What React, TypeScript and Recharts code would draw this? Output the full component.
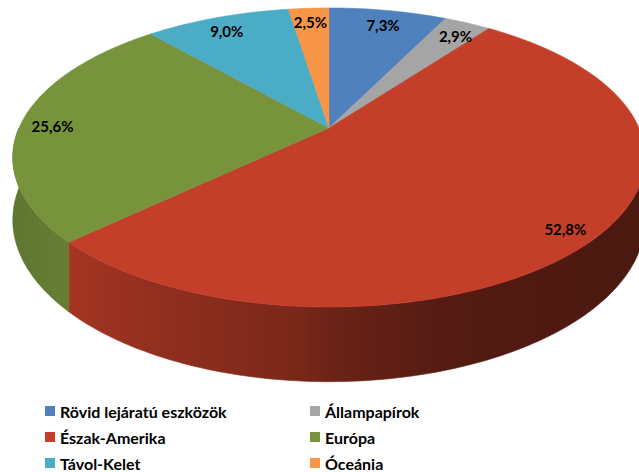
import { PieChart, Pie, Legend } from 'recharts';

const categories = ['Rövid lejáratú eszközök', 'Állampapírok', 'Észak-Amerika', 'Európa', 'Távol-Kelet', 'Óceánia'];
const shares = [7.3, 2.9, 52.8, 25.6, 9.0, 2.5];
const colors = ['#4f81bd', '#a5a5a5', '#c43f29', '#77933c', '#4bacc6', '#f79646'];

const data = categories.map((name, i) => ({ name, value: shares[i], fill: colors[i] }));

// fake Excel-style 3D: perspective tilt of the pie plane, plus a wall under the front rim
const PERSP = 0.197;
const SQUASH = 143.7 / 310;
const WALL = 60;
const wallShade: Array<[number, number]> = [
  [0, 0.78], [0.1, 0.86], [0.12, 0.83], [0.27, 0.73], [0.47, 0.62], [0.52, 0.55], [0.7, 0.43], [0.94, 0.39], [1, 0.39],
];

function project(cx: number, cy: number, r: number, theta: number, f: number, drop = 0) {
  const t = (theta * Math.PI) / 180;
  const d = -Math.cos(t) * f;
  const s = 1 / (1 - PERSP * d);
  return [cx + r * Math.sin(t) * f * s, cy + r * SQUASH * d * s + drop * s];
}

function darken(hex: string, k: number) {
  const n = parseInt(hex.slice(1), 16);
  const c = [(n >> 16) & 255, (n >> 8) & 255, n & 255].map((v) => Math.round(v * k));
  return `rgb(${c[0]},${c[1]},${c[2]})`;
}

function arcPoints(cx: number, cy: number, r: number, a: number, b: number, drop = 0) {
  const n = Math.max(2, Math.ceil(Math.abs(b - a)));
  const pts: string[] = [];
  for (let i = 0; i <= n; i++) {
    const [x, y] = project(cx, cy, r, a + ((b - a) * i) / n, 1, drop);
    pts.push(`${x.toFixed(2)},${y.toFixed(2)}`);
  }
  return pts;
}

function TopFace(props: any) {
  const { cx, cy, outerRadius, startAngle, endAngle, fill } = props;
  const t1 = 90 - startAngle;
  const t2 = 90 - endAngle;
  const d = `M${cx},${cy} L${arcPoints(cx, cy, outerRadius, t1, t2).join(' L')} Z`;
  return <path d={d} fill={fill} stroke={fill} strokeWidth={0.6} strokeLinejoin="round" />;
}

function SideWall(props: any) {
  const { cx, cy, outerRadius, startAngle, endAngle, fill, index } = props;
  const a = Math.max(90 - startAngle, 90);
  const b = Math.min(90 - endAngle, 270);
  if (b <= a) return <g />;
  const top = arcPoints(cx, cy, outerRadius, a, b);
  const bottom = arcPoints(cx, cy, outerRadius, b, a, WALL);
  const id = `wall-${index}`;
  return (
    <g>
      <defs>
        <linearGradient id={id} gradientUnits="userSpaceOnUse" x1={0} y1={0} x2={639} y2={0}>
          {wallShade.map(([o, k]) => (
            <stop key={o} offset={o} stopColor={darken(fill, k)} />
          ))}
        </linearGradient>
      </defs>
      <path d={`M${top.join(' L')} L${bottom.join(' L')} Z`} fill={`url(#${id})`} stroke={`url(#${id})`} strokeWidth={0.6} />
    </g>
  );
}

function renderLabel(props: any) {
  const { cx, cy, outerRadius, midAngle, value } = props;
  const [x, y] = project(cx, cy, outerRadius, 90 - midAngle, 0.9);
  return (
    <text x={x} y={y + 4} textAnchor="middle" dominantBaseline="central" fontFamily="Lato" fontWeight="bold" fontSize={15} fill="#000">
      {`${Number(value).toFixed(1).replace('.', ',')}%`}
    </text>
  );
}

function LegendBox() {
  return (
    <div style={{ position: 'relative', width: 639, height: 78 }}>
      {categories.map((name, i) => (
        <div
          key={name}
          style={{
            position: 'absolute', left: i % 2 === 0 ? 45 : 310, top: Math.floor(i / 2) * 26,
            display: 'flex', alignItems: 'center', height: 26,
            fontFamily: 'Lato', fontWeight: 'bold', fontSize: 16, color: '#000', whiteSpace: 'nowrap',
          }}
        >
          <span style={{ width: 10, height: 10, background: colors[i], marginRight: 5 }} />
          {name}
        </div>
      ))}
    </div>
  );
}

export default function App() {
  return (
    <div style={{ width: 639, height: 472, background: '#fff' }}>
      <style>{'body{margin:0}'}</style>
      <PieChart width={639} height={472} margin={{ top: 0, right: 0, bottom: 0, left: 0 }}>
        <Pie
          data={data} dataKey="value" nameKey="name" cx={329} cy={128} outerRadius={310}
          startAngle={90} endAngle={-270} stroke="none" legendType="none"
          shape={SideWall} inactiveShape={SideWall} isAnimationActive={false}
        />
        <Pie
          data={data} dataKey="value" nameKey="name" cx={329} cy={128} outerRadius={310}
          startAngle={90} endAngle={-270} stroke="none"
          shape={TopFace} inactiveShape={TopFace} label={renderLabel} labelLine={false} isAnimationActive={false}
        />
        <Legend content={() => <LegendBox />} wrapperStyle={{ position: 'absolute', left: 0, top: 398, width: 639 }} />
      </PieChart>
    </div>
  );
}
